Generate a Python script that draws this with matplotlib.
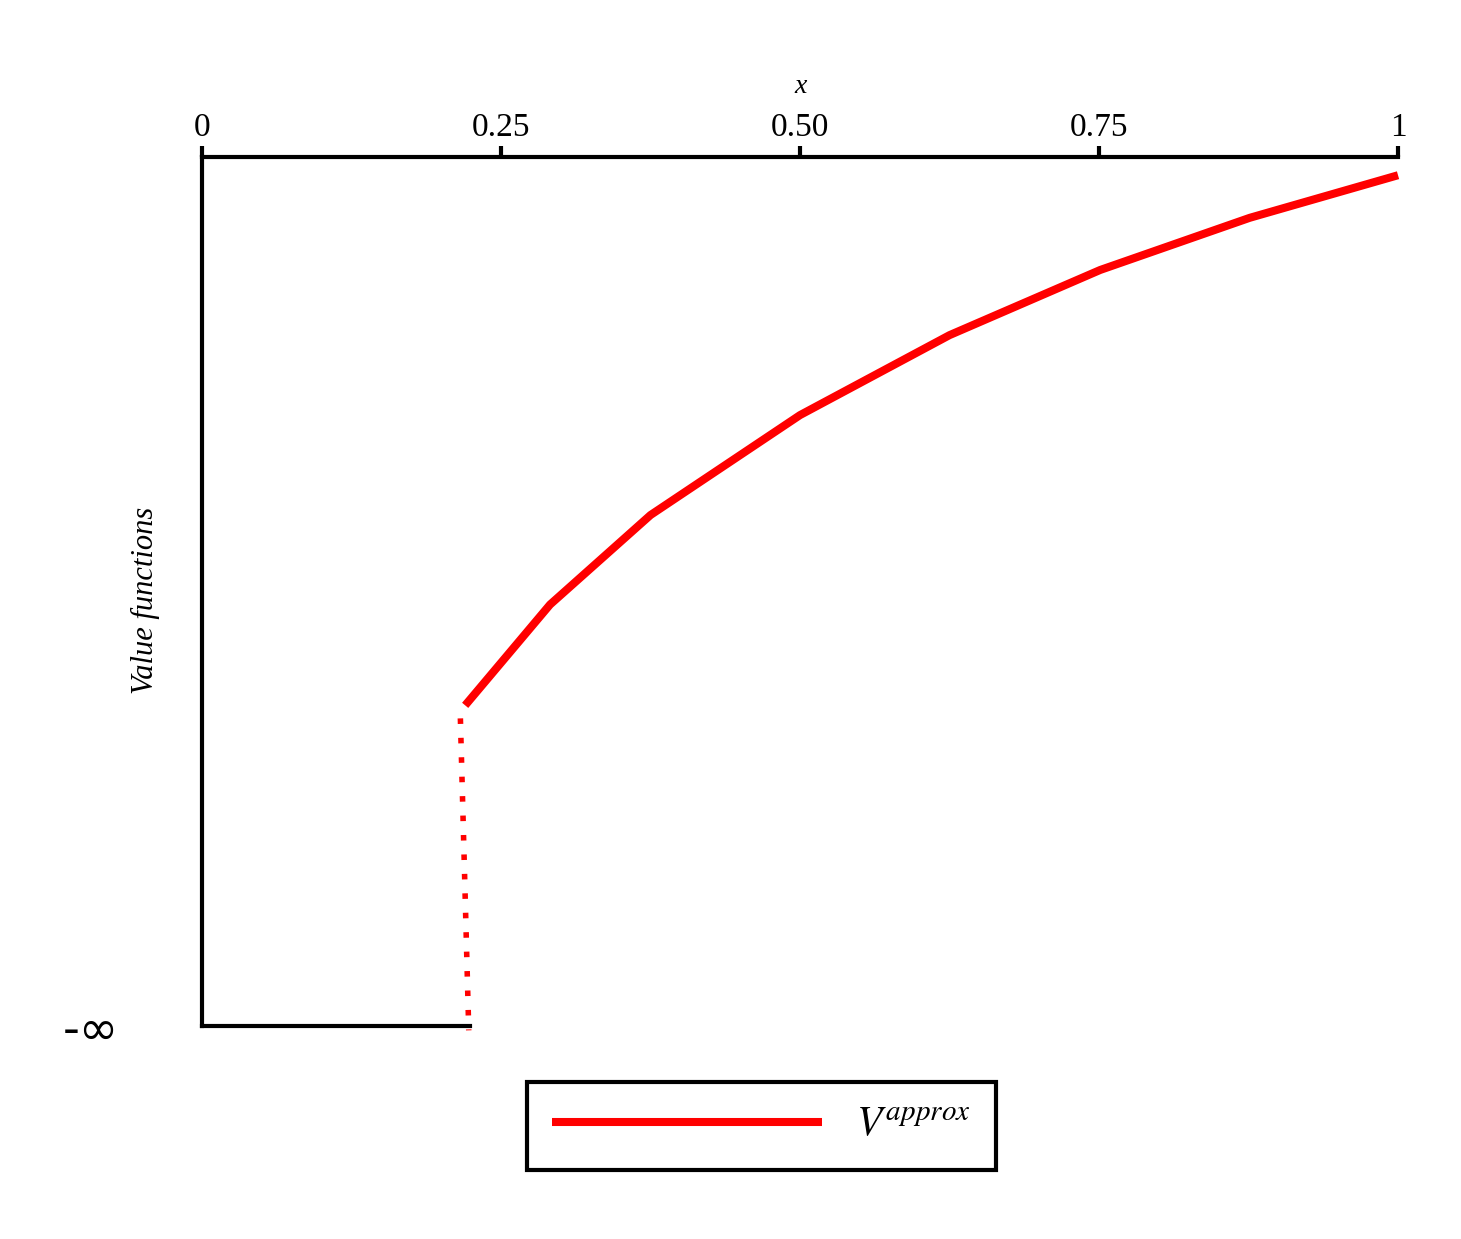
import matplotlib
matplotlib.use("Agg")
import matplotlib.pyplot as plt

plt.rcParams['font.family'] = ['Liberation Serif', 'DejaVu Serif']
plt.rcParams['mathtext.fontset'] = 'stix'

# values; y scaled so that the bottom line (-inf) sits at -1
x_curve = [0.22, 0.291, 0.375, 0.5, 0.625, 0.751, 0.876, 1.0]
y_curve = [-0.631, -0.515, -0.412, -0.297, -0.205, -0.130, -0.070, -0.021]
x_jump = [0.216, 0.223]
y_jump = [-0.646, -1.005]
x_floor = [0.0, 0.224]
y_floor = [-1.0, -1.0]
x_ticks = [0, 0.25, 0.5, 0.75, 1]
x_ticklabels = ["0", "0.25", "0.50", "0.75", "1"]

fig = plt.figure(figsize=(14.61, 12.39), dpi=100)
ax = fig.add_axes([0.1383, 0.1719, 0.8186, 0.7014])
ax.set_xlim(0, 1)
ax.set_ylim(-1, 0)
ax.set_clip_on(False)

ax.plot(x_curve, y_curve, color='red', lw=5.8, label='$V^{approx}$', solid_capstyle='butt', clip_on=False)
ax.plot(x_jump, y_jump, color='red', lw=4, ls=(0, (1, 2.5)), clip_on=False)
ax.plot(x_floor, y_floor, color='black', lw=3, clip_on=False)

for s in ['right', 'bottom']:
    ax.spines[s].set_visible(False)
for s in ['top', 'left']:
    ax.spines[s].set_linewidth(3)

ax.xaxis.tick_top()
ax.set_xticks(x_ticks)
ax.set_xticklabels(x_ticklabels, fontsize=24)
ax.tick_params(axis='x', direction='out', length=8, width=3, pad=2)
ax.xaxis.set_label_position('top')
ax.set_xlabel('x', style='italic', fontsize=20, labelpad=14)

ax.set_yticks([-1])
ax.set_yticklabels(['-∞'], fontsize=34, family=['DejaVu Sans'])
ax.tick_params(axis='y', length=0, pad=60)
ax.set_ylabel('Value functions', style='italic', fontsize=22, labelpad=-8)
ax.yaxis.set_label_coords(-0.035, 0.49)

leg = fig.legend(loc='center', bbox_to_anchor=(0.521, 0.0912), fontsize=30,
                 handlelength=6.5, fancybox=False, edgecolor='black',
                 borderpad=0.6, framealpha=1)
leg.get_frame().set_linewidth(3)

fig.savefig('out.png', dpi=100)
